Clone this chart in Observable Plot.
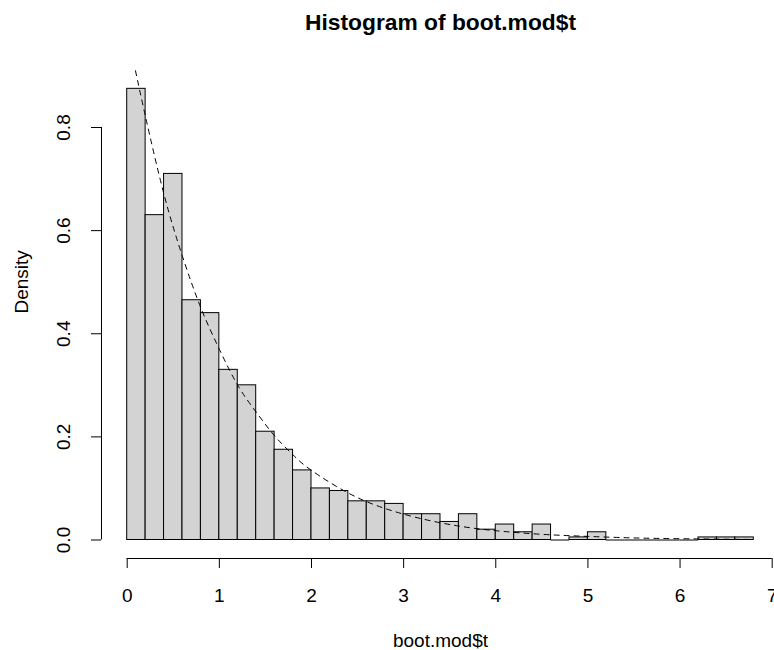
<!DOCTYPE html>
<html>
<head>
<meta charset="utf-8">
<script src="https://cdn.jsdelivr.net/npm/d3@7"></script>
<script src="https://cdn.jsdelivr.net/npm/@observablehq/plot@0.6"></script>
<style>
  html, body { margin: 0; padding: 0; background: #ffffff; }
  #chart svg { display: block; }
</style>
</head>
<body>
<div id="chart"></div>
<script>
// ---- Text ----
const title = "Histogram of boot.mod$t";
const xLabel = "boot.mod$t";
const yLabel = "Density";

// ---- Histogram bins (left / right breaks) and densities ----
const binLeft  = [0.0, 0.2, 0.4, 0.6, 0.8, 1.0, 1.2, 1.4, 1.6, 1.8, 2.0, 2.2, 2.4, 2.6, 2.8, 3.0, 3.2,
                  3.4, 3.6, 3.8, 4.0, 4.2, 4.4, 4.6, 4.8, 5.0, 5.2, 5.4, 5.6, 5.8, 6.0, 6.2, 6.4, 6.6];
const binRight = [0.2, 0.4, 0.6, 0.8, 1.0, 1.2, 1.4, 1.6, 1.8, 2.0, 2.2, 2.4, 2.6, 2.8, 3.0, 3.2, 3.4,
                  3.6, 3.8, 4.0, 4.2, 4.4, 4.6, 4.8, 5.0, 5.2, 5.4, 5.6, 5.8, 6.0, 6.2, 6.4, 6.6, 6.8];
const density  = [0.875, 0.630, 0.710, 0.465, 0.440, 0.330, 0.300, 0.210, 0.175, 0.135, 0.100, 0.095,
                  0.075, 0.075, 0.070, 0.050, 0.050, 0.035, 0.050, 0.020, 0.030, 0.015, 0.030, 0.000,
                  0.005, 0.015, 0.000, 0.000, 0.000, 0.000, 0.000, 0.005, 0.005, 0.005];

// ---- Dashed density curve ----
const curveX = [0.09, 0.2, 0.4, 0.6, 0.8, 1.0, 1.2, 1.4, 1.6, 1.8, 2.0, 2.4, 2.8, 3.2, 3.6, 4.0, 4.5, 5.0, 5.5, 6.0, 6.5, 6.8];
const curveY = [0.910, 0.820, 0.670, 0.550, 0.450, 0.370, 0.300, 0.248, 0.202, 0.165, 0.135, 0.091,
                0.061, 0.041, 0.027, 0.018, 0.011, 0.007, 0.004, 0.0025, 0.0015, 0.0011];

// ---- Axis ticks ----
const xTicks = [0, 1, 2, 3, 4, 5, 6, 7];
const yTicks = [0.0, 0.2, 0.4, 0.6, 0.8];

// ---- Build tables ----
const bars = binLeft.map((x1, i) => ({x1, x2: binRight[i], density: density[i]}));
const emptyBars = bars.filter(d => d.density === 0);
const curve = curveX.map((x, i) => ({x, y: curveY[i]}));

// ---- Layout ----
const W = 774, H = 650;
const mL = 126.7, mR = 2.3, mT = 127, mB = 110.5;
const xAxisShift = 18.5;   // x axis sits below the bars' baseline
const yAxisShift = -25.7;  // y axis sits left of x = 0
const frameCx = (mL + (W - mR)) / 2;
const frameCy = (mT + (H - mB)) / 2;
const baseFont = 19;

const chart = Plot.plot({
  width: W,
  height: H,
  marginLeft: mL,
  marginRight: mR,
  marginTop: mT,
  marginBottom: mB,
  x: {domain: [xTicks[0], xTicks[xTicks.length - 1]]},
  y: {domain: [yTicks[0], yTicks[yTicks.length - 1]]},
  style: {
    fontFamily: "'Liberation Sans', Arial, Helvetica, sans-serif",
    fontSize: baseFont + "px",
    color: "black",
    background: "white",
    overflow: "visible"
  },
  marks: [
    Plot.rectY(bars, {x1: "x1", x2: "x2", y1: 0, y2: "density", fill: "#d3d3d3", stroke: "black", strokeWidth: 1, inset: 0}),
    Plot.ruleY(emptyBars, {x1: "x1", x2: "x2", y: 0, stroke: "black", strokeWidth: 1}),
    Plot.line(curve, {x: "x", y: "y", stroke: "black", strokeWidth: 1, strokeDasharray: "5,5", curve: "natural"}),
    // x axis
    Plot.ruleY([0], {x1: xTicks[0], x2: xTicks[xTicks.length - 1], dy: xAxisShift, stroke: "black"}),
    Plot.axisX(xTicks, {anchor: "bottom", tickSize: 10, tickPadding: 20, dy: xAxisShift, label: null,
                        tickFormat: d => String(d), fontSize: baseFont}),
    // y axis
    Plot.ruleX([0], {y1: yTicks[0], y2: yTicks[yTicks.length - 1], dx: yAxisShift, stroke: "black"}),
    Plot.axisY(yTicks, {anchor: "left", tickSize: 10, tickPadding: 22, dx: yAxisShift, label: null,
                        tickRotate: -90, tickFormat: d3.format(".1f"), fontSize: baseFont}),
    // titles
    Plot.text([title], {text: d => d, frameAnchor: "top", dx: 440 - frameCx, dy: 29.3 - mT,
                        lineAnchor: "bottom", fontSize: baseFont * 1.2, fontWeight: "bold"}),
    Plot.text([xLabel], {text: d => d, frameAnchor: "bottom", dx: 440 - frameCx, dy: 646.5 - (H - mB),
                         lineAnchor: "bottom", fontSize: baseFont}),
    Plot.text([yLabel], {text: d => d, frameAnchor: "left", dx: 27 - mL, dy: 313 - frameCy,
                         rotate: -90, lineAnchor: "bottom", fontSize: baseFont})
  ]
});

document.getElementById("chart").appendChild(chart);
</script>
</body>
</html>
